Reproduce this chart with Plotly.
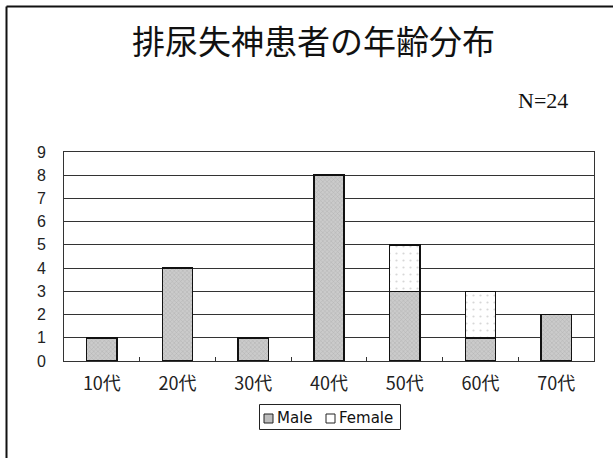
import plotly.graph_objects as go

# Age groups and patient counts by sex
age_groups = ["10代", "20代", "30代", "40代", "50代", "60代", "70代"]
male_counts = [1, 4, 1, 8, 3, 1, 2]
female_counts = [0, 0, 0, 0, 2, 2, 0]
y_ticks = list(range(0, 10))
series_names = ["Male", "Female"]
total_n = sum(male_counts) + sum(female_counts)

W, H = 613, 458
L, R, T, B = 64, 19, 152, 97
plot_w = W - L - R
plot_h = H - T - B


def px_x(px):
    return (px - L) / plot_w


def px_y(py):
    return (H - B - py) / plot_h


male_style = dict(
    color="#c2c2c2",
    line=dict(color="#111", width=1.5),
    pattern=dict(shape="x", size=3, solidity=0.3, fgcolor="#959595", bgcolor="#cbcbcb"),
)
female_style = dict(
    color="white",
    line=dict(color="#111", width=1.5),
    pattern=dict(shape=".", size=7, solidity=0.08, fgcolor="#b0b0b0", bgcolor="white"),
)

fig = go.Figure()
fig.add_trace(go.Bar(name=series_names[0], x=age_groups, y=male_counts,
                     marker=male_style, showlegend=False))
fig.add_trace(go.Bar(name=series_names[1], x=age_groups, y=female_counts,
                     marker=female_style, showlegend=False))

# Outer frame (top and left edges)
fig.add_shape(type="line", xref="paper", yref="paper",
              x0=px_x(6.5), x1=px_x(6.5), y0=px_y(H), y1=px_y(6.5),
              line=dict(color="#111", width=2))
fig.add_shape(type="line", xref="paper", yref="paper",
              x0=px_x(6.5), x1=px_x(W), y0=px_y(6.5), y1=px_y(6.5),
              line=dict(color="#111", width=2))

# Compact legend box below the axis
fig.add_shape(type="rect", xref="paper", yref="paper",
              x0=px_x(259.5), x1=px_x(400.5), y0=px_y(429.5), y1=px_y(404.5),
              line=dict(color="#222", width=1), fillcolor="white")
legend_items = [(264, 275, series_names[0], "#bdbdbd"),
                (326, 337, series_names[1], "white")]
for sx, tx, label, fill in legend_items:
    fig.add_shape(type="rect", xref="paper", yref="paper",
                  x0=px_x(sx), x1=px_x(sx + 9), y0=px_y(423), y1=px_y(414),
                  line=dict(color="#222", width=1), fillcolor=fill)
    fig.add_annotation(text=label, xref="paper", yref="paper",
                       x=px_x(tx), y=px_y(418), xanchor="left", yanchor="middle",
                       showarrow=False,
                       font=dict(family="DejaVu Sans", size=15, color="#111"))

fig.add_annotation(
    text=f"N={total_n}", xref="paper", yref="paper",
    x=px_x(570), y=px_y(100), xanchor="right", yanchor="middle",
    showarrow=False, font=dict(family="Liberation Serif", size=22, color="#111"),
)

fig.update_layout(
    width=W, height=H,
    margin=dict(l=L, r=R, t=T, b=B),
    paper_bgcolor="white", plot_bgcolor="white",
    barmode="stack", bargap=0.6,
    title=dict(
        text="排尿失神患者の年齢分布",
        x=313.5 / W, y=1 - 42 / H, xanchor="center", yanchor="middle",
        font=dict(family="Noto Sans CJK JP", size=33, color="#111"),
    ),
    font=dict(family="Liberation Sans, Noto Sans CJK JP", color="#111"),
    showlegend=False,
)

fig.update_xaxes(
    showline=True, mirror=True, linecolor="#333", linewidth=1,
    ticks="inside", tickson="boundaries", ticklen=4, tickcolor="#333",
    tickfont=dict(family="Noto Sans CJK JP", size=18, color="#222"),
    ticklabelstandoff=6,
)
fig.update_yaxes(
    range=[0, 9], tickvals=y_ticks,
    showline=True, mirror=True, linecolor="#333", linewidth=1,
    showgrid=True, gridcolor="#333", gridwidth=1,
    zeroline=False,
    tickfont=dict(family="Liberation Sans", size=16, color="#222"),
    ticklabelstandoff=14,
)

fig.write_html("out.html")
